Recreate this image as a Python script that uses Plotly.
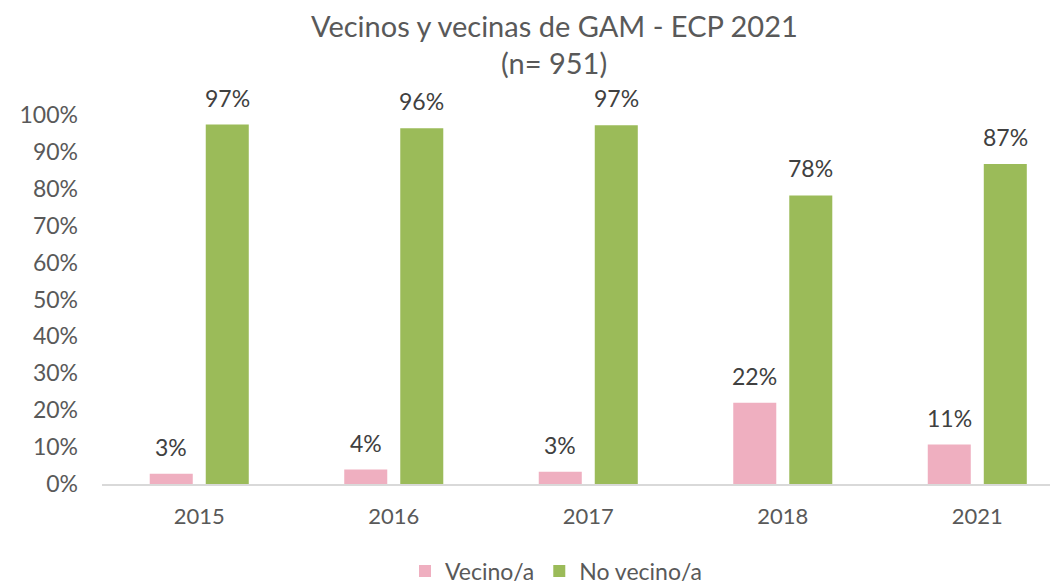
import plotly.graph_objects as go

years = ["2015", "2016", "2017", "2018", "2021"]
vecino = [2.8, 3.9, 3.3, 22.0, 10.7]
no_vecino = [97.4, 96.4, 97.2, 78.2, 86.7]
series_names = ["Vecino/a", "No vecino/a"]
colors = ["#EFAFC0", "#9BBB59"]
title_lines = ["Vecinos y vecinas de GAM - ECP 2021", "(n= 951)"]

FONT = "Lato"
W, H = 1050, 576
L, T, B = 94, 107, 100
plot_h = H - T - B
plot_w = W - L

fig = go.Figure()
for name, vals, col in zip(series_names, [vecino, no_vecino], colors):
    fig.add_trace(go.Bar(x=years, y=vals, name=name, marker=dict(color=col, line=dict(width=0))))

annotations = []
for vals, shift in [(vecino, -28), (no_vecino, 28)]:
    for i, v in enumerate(vals):
        annotations.append(dict(x=i, xref="x", y=v, yref="y", text=f"{round(v)}%", showarrow=False,
                                xshift=shift, yshift=27, yanchor="middle",
                                font=dict(family=FONT, size=23, color="#404040")))

title_x = (546 - L) / plot_w
for line, ypx in zip(title_lines, [18, 55]):
    annotations.append(dict(x=title_x, xref="paper", y=(H - B - ypx) / plot_h, yref="paper",
                            text=line, showarrow=False, xanchor="center", yanchor="middle",
                            font=dict(family=FONT, size=29, color="#595959")))

fig.update_layout(
    width=W, height=H,
    paper_bgcolor="white", plot_bgcolor="white",
    margin=dict(l=L, r=0, t=T, b=B),
    barmode="group", bargap=0.424, bargroupgap=0.232,
    font=dict(family=FONT, size=22, color="#595959"),
    showlegend=True,
    legend=dict(orientation="h", xref="container", yref="container",
                x=548/W, xanchor="center", y=13/H, yanchor="middle",
                font=dict(family=FONT, size=23, color="#595959"),
                itemwidth=30),
    annotations=annotations,
)
fig.update_xaxes(type="category", range=[-0.5, 4.415], showline=True, linecolor="#D9D9D9", linewidth=1.5,
                 showgrid=False, ticks="", ticklabelstandoff=12,
                 tickfont=dict(family=FONT, size=22, color="#595959"))
fig.update_yaxes(range=[0, 100], dtick=10, ticksuffix="%", showgrid=False, zeroline=False,
                 showline=False, ticks="", ticklabelstandoff=23,
                 tickfont=dict(family=FONT, size=23, color="#595959"))

fig.write_html("out.html")
